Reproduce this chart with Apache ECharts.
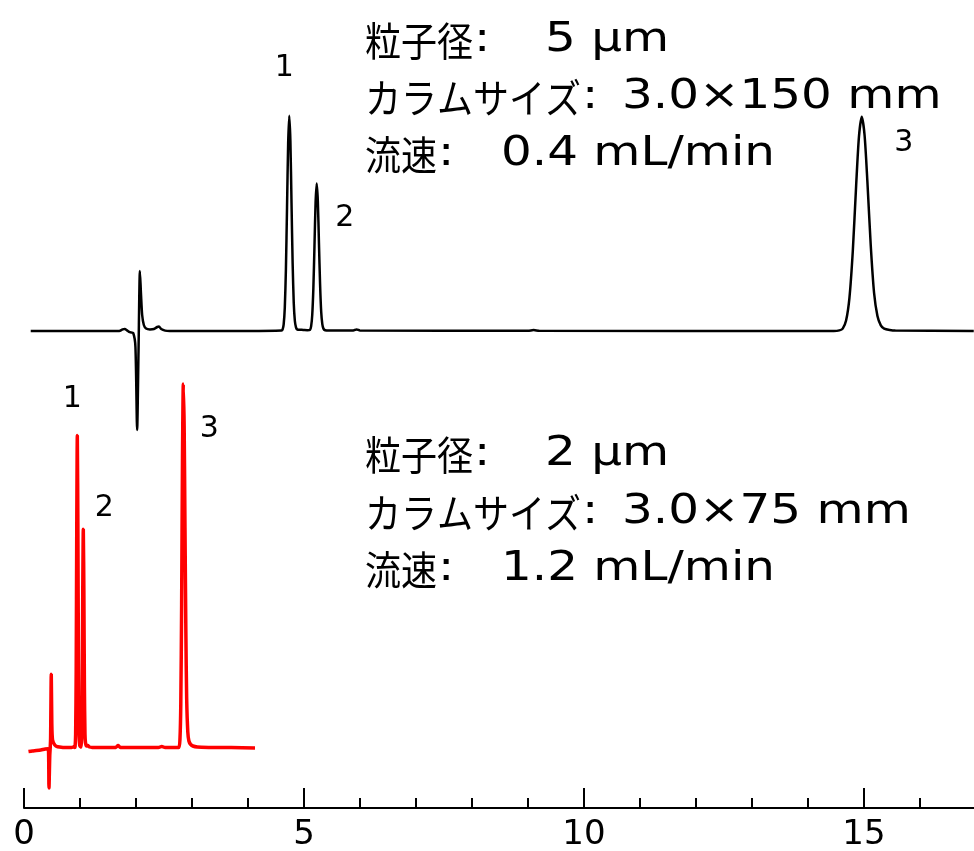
<!DOCTYPE html>
<html>
<head>
<meta charset="utf-8">
<script src="https://cdn.jsdelivr.net/npm/echarts@6/dist/echarts.min.js"></script>
<style>
html,body{margin:0;padding:0;background:#fff;}
#chart{width:974px;height:851px;}
</style>
</head>
<body>
<div id="chart"></div>
<script>
// ---- data (retention time in min, detector signal in arbitrary units) ----
var blackTime = [0.12, 1.00, 1.70, 1.76, 1.80, 1.84, 1.89, 1.95, 1.99, 2.02, 2.045, 2.07, 2.09, 2.11, 2.14, 2.18, 2.25, 2.32, 2.38, 2.41, 2.45, 2.52, 2.60, 4.00,
  4.60, 4.617, 4.637, 4.657, 4.677, 4.697, 4.717, 4.737, 4.757, 4.777, 4.797, 4.817, 4.837, 4.857, 4.877, 4.92, 4.96, 5.00, 5.06,
  5.107, 5.127, 5.147, 5.167, 5.187, 5.207, 5.227, 5.247, 5.267, 5.287, 5.307, 5.327, 5.347, 5.377, 5.45, 5.88, 5.94, 6.00, 9.0, 9.1, 9.2,
  14.30, 14.46, 14.56, 14.62, 14.68, 14.74, 14.80, 14.86, 14.91, 14.96, 15.01, 15.06, 15.12, 15.18, 15.24, 15.30, 15.36, 15.46, 15.56, 16.96];
var blackSignal = [0, 0, 0, 0.8, 1.0, 0.3, -0.6, -1.0, -8, -49.5, -10, 30, 18, 8, 3, 1.2, 0.8, 1.0, 2.0, 2.2, 1.0, 0.2, 0, 0,
  0.2, 0.7, 3.3, 11.7, 30.9, 61.9, 93.7, 107.6, 95, 64, 34, 14, 5, 1.8, 0.8, 0.6, 0.6, 0.5, 0.4,
  0.6, 2.3, 8.0, 21.2, 42.4, 64.3, 73.8, 65, 44, 23.5, 9.6, 3.4, 1.2, 0.4, 0.2, 0.2, 0.8, 0.2, 0.1, 0.5, 0.1,
  0, 0, 0.3, 1.2, 5.2, 16.6, 40, 72.9, 97.2, 107.1, 98, 75, 43, 19, 7.5, 2.8, 1.2, 0.5, 0.2, 0];

var redTime = [0.08, 0.15, 0.22, 0.30, 0.38, 0.43, 0.44, 0.446, 0.46, 0.468, 0.475, 0.487, 0.497, 0.51, 0.55, 0.60, 0.70, 0.85, 0.88,
  0.902, 0.912, 0.922, 0.932, 0.942, 0.952, 0.962, 0.972, 0.982, 0.992, 1.000, 1.009,
  1.019, 1.029, 1.039, 1.049, 1.059, 1.069, 1.079, 1.089, 1.099, 1.119, 1.14, 1.17, 1.22, 1.40, 1.64, 1.68, 1.72, 2.0, 2.40, 2.46, 2.52, 2.70,
  2.765, 2.785, 2.80, 2.815, 2.83, 2.845, 2.86, 2.875, 2.89, 2.905, 2.925, 2.945, 2.975, 3.015, 3.095, 3.30, 3.70, 4.125];
var redSignal = [-1.8, -1.5, -1.3, -1.0, -0.5, -0.4, -4, -20, -4, 0, 5, 36.9, 12, 4, 1.5, 0.6, 0.3, 0.2, 0.5,
  0.3, 0.6, 6.9, 38.9, 110, 156.2, 112, 42, 9, 2, 0.8, 0.8,
  0.5, 4.8, 27.2, 77.3, 109.4, 79, 30, 7, 2.5, 1.0, 1.2, 0.5, 0.3, 0.2, 0.3, 1.2, 0.3, 0.3, 0.2, 0.8, 0.2, 0.3,
  0.2, 4.4, 22, 72, 144, 182, 161, 110, 59, 24.6, 8, 3.5, 1.8, 1.0, 0.5, 0.3, 0.2, 0];

// peak numbers: [label, time, signal]
var blackPeaks = [['1', 4.737, 107.6], ['2', 5.227, 73.8], ['3', 14.96, 107.1]];
var redPeaks = [['1', 0.952, 156.2], ['2', 1.059, 109.4], ['3', 2.845, 182]];

var xTicks = [0, 5, 10, 15];

// condition notes: [item name, value]
var topNote = [['粒子径', '5 µm'], ['カラムサイズ', '3.0×150 mm'], ['流速', '0.4 mL/min']];
var bottomNote = [['粒子径', '2 µm'], ['カラムサイズ', '3.0×75 mm'], ['流速', '1.2 mL/min']];

// ---- chart ----
var LATIN = "'DejaVu Sans', sans-serif";
var CJK = "'Noto Sans CJK JP', sans-serif";
function zip(t, v) { return t.map(function (x, i) { return [x, v[i]]; }); }

var blackOffsets = [[-5, -48], [28, 35], [42, 26]];
var redOffsets = [[-5, -36], [21, -21], [26, 45]];
function peakMarks(peaks, offs) {
  return peaks.map(function (p, i) {
    return { coord: [p[1], p[2]], value: p[0], label: { offset: offs[i] } };
  });
}

// layout of the note text blocks
var noteLeft = 365;
var valueLeft = [545, 622, 501];
function noteGraphics(note, lineY) {
  var els = [];
  note.forEach(function (row, i) {
    els.push({ type: 'text', x: noteLeft, y: lineY[i], scaleX: 0.9, style: { text: row[0], font: '40px ' + CJK, fill: '#000', textAlign: 'left', textVerticalAlign: 'middle' } });
    els.push({ type: 'text', x: noteLeft + row[0].length * 36 + 1, y: lineY[i], scaleX: 1.21, style: { text: ':', font: '40px ' + LATIN, fill: '#000', textAlign: 'left', textVerticalAlign: 'middle' } });
    els.push({ type: 'text', x: valueLeft[i], y: lineY[i], scaleX: 1.21, style: { text: row[1], font: '40px ' + LATIN, fill: '#000', textAlign: 'left', textVerticalAlign: 'middle' } });
  });
  return els;
}

var chart = echarts.init(document.getElementById('chart'), null, { renderer: 'canvas' });
chart.setOption({
  animation: false,
  backgroundColor: '#ffffff',
  grid: { left: 24, top: 0, bottom: 43, width: 20 * 56, containLabel: false, outerBoundsMode: 'none' },
  xAxis: {
    type: 'value', min: 0, max: 20, interval: 5,
    axisLine: { show: true, onZero: false, lineStyle: { color: '#000', width: 2 } },
    axisTick: { show: true, inside: true, length: 20, lineStyle: { color: '#000', width: 2 } },
    minorTick: { show: true, splitNumber: 5, length: 10, lineStyle: { color: '#000', width: 2 } },
    splitLine: { show: false },
    axisLabel: {
      margin: 10, color: '#000', fontSize: 34, fontFamily: LATIN,
      formatter: function (v) { return xTicks.indexOf(v) >= 0 ? String(v) : ''; }
    }
  },
  yAxis: [
    { type: 'value', min: -238.5, max: 165.5, show: false, splitLine: { show: false } },
    { type: 'value', min: -30, max: 374, show: false, splitLine: { show: false } }
  ],
  series: [
    {
      type: 'line', yAxisIndex: 0, data: zip(blackTime, blackSignal), showSymbol: false, smooth: 0.25,
      lineStyle: { color: '#000', width: 2.5 }, z: 3,
      markPoint: {
        symbol: 'circle', symbolSize: 0,
        label: { show: true, color: '#000', fontSize: 30, fontFamily: LATIN, formatter: '{c}' },
        data: peakMarks(blackPeaks, blackOffsets)
      }
    },
    {
      type: 'line', yAxisIndex: 1, data: zip(redTime, redSignal), showSymbol: false, smooth: 0.25,
      lineStyle: { color: '#ff0000', width: 3.5 }, z: 2,
      markPoint: {
        symbol: 'circle', symbolSize: 0,
        label: { show: true, color: '#000', fontSize: 30, fontFamily: LATIN, formatter: '{c}' },
        data: peakMarks(redPeaks, redOffsets)
      }
    }
  ],
  graphic: noteGraphics(topNote, [41, 98, 155]).concat(noteGraphics(bottomNote, [455, 513, 570]))
});
</script>
</body>
</html>
